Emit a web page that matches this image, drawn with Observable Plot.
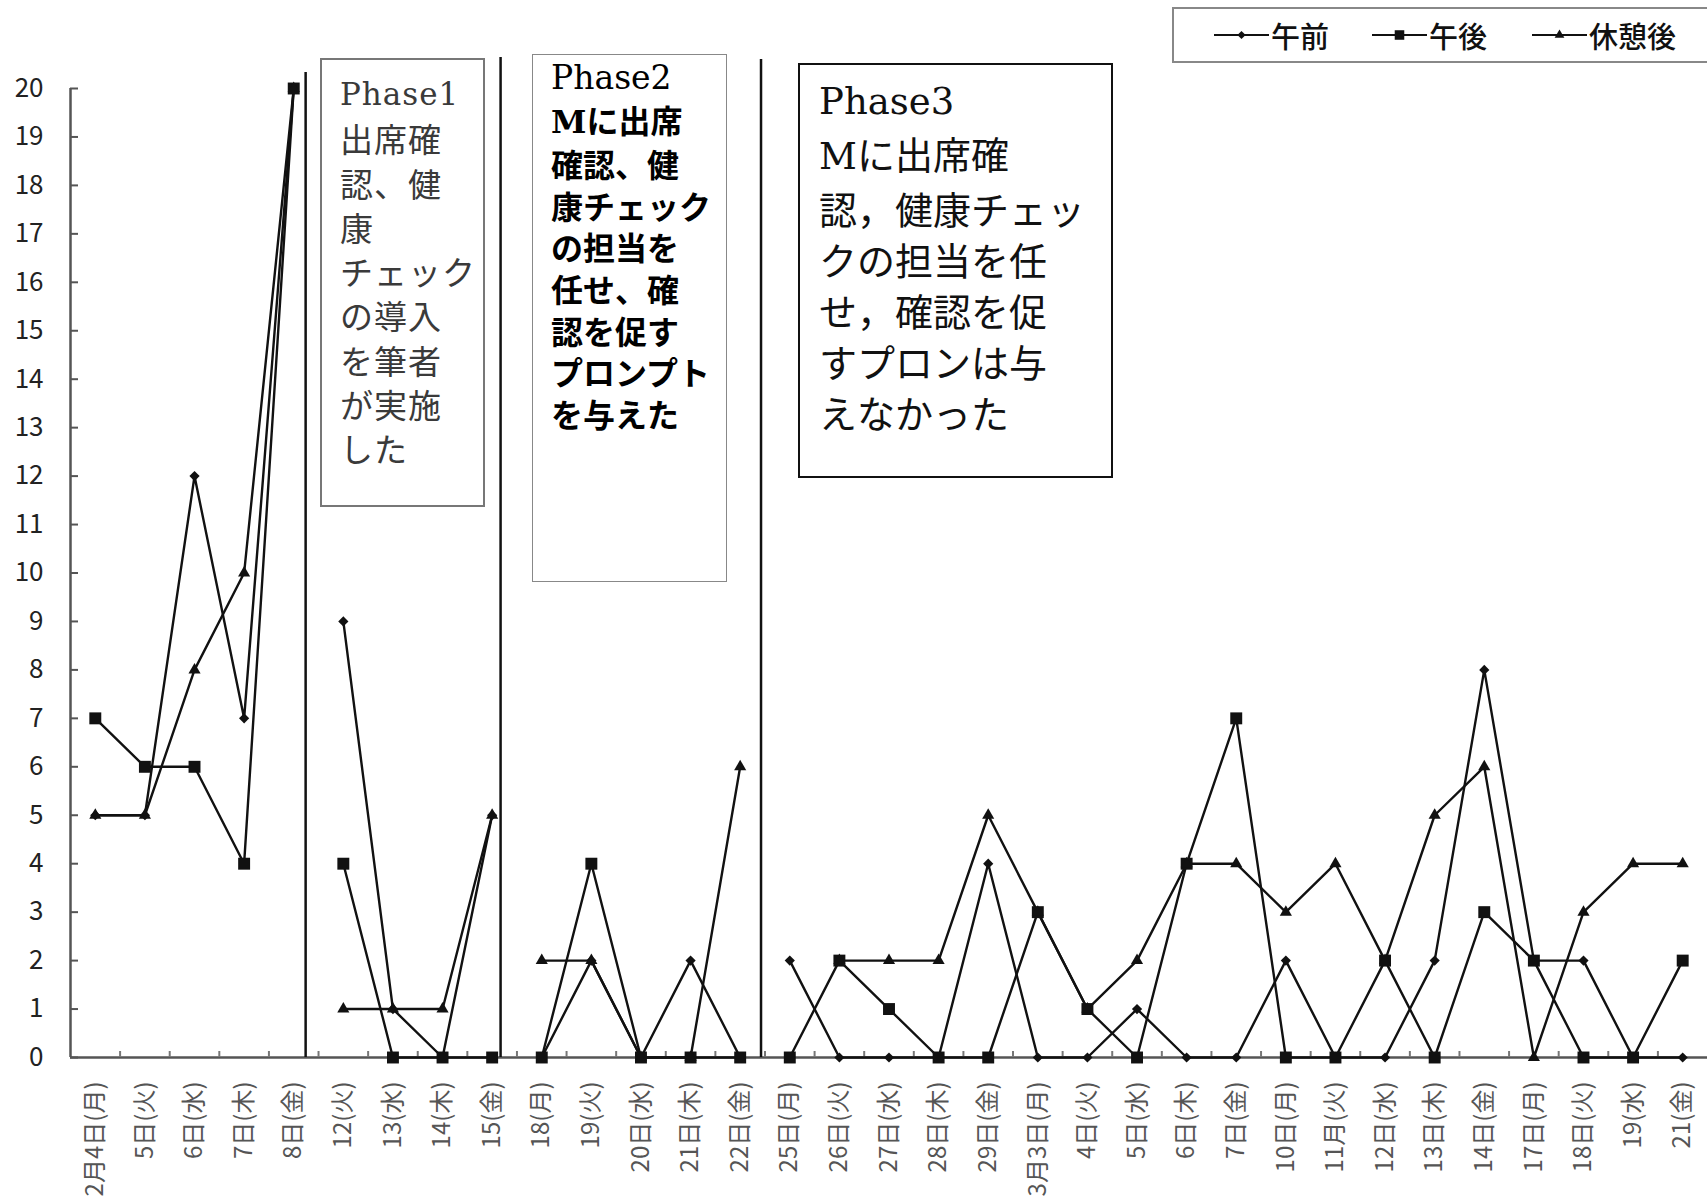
<!DOCTYPE html>
<html>
<head>
<meta charset="utf-8">
<script src="https://cdn.jsdelivr.net/npm/d3@7"></script>
<script src="https://cdn.jsdelivr.net/npm/@observablehq/plot@0.6"></script>
<style>
  html, body { margin: 0; padding: 0; background: #fff; }
  #wrap { position: relative; width: 1707px; height: 1202px; overflow: hidden; background: #fff; }
  #chart { position: absolute; left: 0; top: 0; }
  .box { position: absolute; box-sizing: border-box; background: #fff; font-family: "Noto Sans CJK JP", sans-serif; }
  .lat { font-family: "DejaVu Serif", serif; }
  #p1 { left: 320px; top: 58px; width: 165px; height: 449px; border: 2px solid #777; padding: 9px 0 0 18px;
        font-size: 33px; line-height: 44.3px; color: #3a3a3a; letter-spacing: 1px; font-weight: 400; }
  #p1 .lat { font-size: 31px; letter-spacing: 1px; }
  #p2 { left: 532px; top: 54px; width: 195px; height: 528px; border: 1.5px solid #888; padding: 0 0 0 18px;
        font-size: 32px; line-height: 41.6px; color: #000; font-weight: 700; }
  #p2 .lat { font-size: 33px; font-weight: 400; }
  #p2 .latb { font-family: "DejaVu Serif", serif; font-weight: 700; }
  #p3 { left: 798px; top: 63px; width: 315px; height: 415px; border: 2.5px solid #111; padding: 7px 0 0 19px;
        font-size: 38px; line-height: 51px; color: #111; }
  #p3 .lat { font-size: 37px; }
  #legend { position: absolute; left: 1172px; top: 7px; width: 560px; height: 56px; box-sizing: border-box;
            border: 2px solid #888; background: #fff; display: flex; align-items: center; padding-left: 40px;
            font-family: "Noto Sans CJK JP", sans-serif; font-size: 29px; font-weight: 500; color: #111; }
  .item { display: flex; align-items: center; }
  .item svg { display: block; }
  .item span { margin-left: 2px; }
</style>
</head>
<body>
<div id="wrap">
  <div id="chart"></div>
  <div id="legend"></div>
  <div class="box" id="p1"></div>
  <div class="box" id="p2"></div>
  <div class="box" id="p3"></div>
</div>
<script>
// ---- data ----
const dates = ["2月4日(月)","5日(火)","6日(水)","7日(木)","8日(金)",
  "12(火)","13(水)","14(木)","15(金)",
  "18(月)","19(火)","20日(水)","21日(木)","22日(金)",
  "25日(月)","26日(火)","27日(水)","28日(木)","29日(金)","3月3日(月)","4日(火)","5日(水)","6日(木)","7日(金)",
  "10日(月)","11月(火)","12日(水)","13日(木)","14日(金)","17日(月)","18日(火)","19(水)","21(金)"];
const seriesNames = ["午前", "午後", "休憩後"];
const amValues   = [5,5,12,7,20, 9,1,0,5, 0,2,0,2,0, 2,0,0,0,4,0,0,1,0,0,2,0,0,2,8,2,2,0,0];
const pmValues   = [7,6,6,4,20, 4,0,0,0, 0,4,0,0,0, 0,2,1,0,0,3,1,0,4,7,0,0,2,0,3,2,0,0,2];
const restValues = [5,5,8,10,20, 1,1,1,5, 2,2,0,0,6, null,2,2,2,5,3,1,2,4,4,3,4,2,5,6,0,3,4,4];
const phaseStarts = [0, 5, 9, 14];           // first category index of each phase
const phaseDividers = [4.24, 8.17, 13.42];   // divider positions between categories
const phaseDividerTops = [20.33, 20.64, 20.6];
const yTicks = d3.range(0, 21);
const phaseTexts = [
  ["<span class='lat'>Phase1</span>", "出席確", "認、健", "康", "チェック", "の導入", "を筆者", "が実施", "した"],
  ["<span class='lat'>Phase2</span>", "<span class='latb'>M</span>に出席", "確認、健", "康チェック", "の担当を", "任せ、確", "認を促す", "プロンプト", "を与えた"],
  ["<span class='lat'>Phase3</span>", "<span class='lat'>M</span>に出席確", "認，健康チェッ", "クの担当を任", "せ，確認を促", "すプロンは与", "えなかった"]
];

// ---- table ----
const valuesBySeries = [amValues, pmValues, restValues];
const segOf = i => d3.bisectRight(phaseStarts, i) - 1;
const rows = [];
seriesNames.forEach((s, k) => {
  valuesBySeries[k].forEach((v, i) => {
    rows.push({series: s, i, value: v, seg: segOf(i)});
  });
});
const pts = rows.filter(d => d.value != null);

const styles = {
  "午前":  {symbol: "diamond2", r: 4.6},
  "午後":  {symbol: "square2", r: 7.6},
  "休憩後": {symbol: "triangle2", r: 5.8}
};
const ink = "#111";
const xDomain = [-0.5, dates.length - 0.5];
const boundaries = d3.range(1, dates.length).map(i => i - 0.5);

const chart = Plot.plot({
  width: 1707,
  height: 1202,
  marginLeft: 70,
  marginRight: 0,
  marginTop: 88,
  marginBottom: 145,
  style: {fontFamily: "'Noto Sans CJK JP', sans-serif", background: "transparent"},
  x: {type: "linear", domain: xDomain},
  y: {domain: [0, 20]},
  marks: [
    // axis lines
    Plot.ruleY([0], {stroke: "#555", strokeWidth: 2.5}),
    Plot.ruleX([xDomain[0]], {y1: 0, y2: 20, stroke: "#555", strokeWidth: 2.5}),
    // inward ticks
    Plot.axisY({ticks: yTicks, tickSize: 8, dx: 8, fill: "none", stroke: "#555", strokeWidth: 2, label: null}),
    Plot.axisX({ticks: boundaries, tickSize: 6, dy: -6, fill: "none", stroke: "#777", strokeWidth: 2, label: null}),
    // tick labels
    Plot.axisY({ticks: yTicks, tickSize: 0, tickPadding: 27, fontSize: 26, fill: "#222", label: null}),
    Plot.axisX({ticks: d3.range(dates.length), tickFormat: i => dates[i], tickSize: 0, tickPadding: 24,
                tickRotate: -90, fontSize: 24, fill: "#555", label: null, ariaLabel: "x-labels"}),
    // phase dividers
    Plot.ruleX(phaseDividers, {x: d => d, y1: 0, y2: (d, j) => phaseDividerTops[j], stroke: "#111", strokeWidth: 2.5}),
    // series lines
    Plot.line(rows, {x: "i", y: "value", z: d => d.series + "-" + d.seg, stroke: ink, strokeWidth: 2.4}),
    // markers
    ...seriesNames.map(s => Plot.dot(pts.filter(d => d.series === s),
      {x: "i", y: "value", symbol: () => styles[s].symbol, r: styles[s].r, fill: ink, stroke: "none"}))
  ],
  symbol: {type: "identity"}
});
// elongate the rotated date labels along their reading direction, as in the original
d3.select(chart).selectAll("g[aria-label='x-labels'] text, g[aria-label='x-axis tick label'] text").each(function() {
  const t = this.getAttribute("transform") || "";
  if (t.includes("rotate")) this.setAttribute("transform", t + " scale(1.4,1)");
});
document.getElementById("chart").appendChild(chart);

// ---- annotation boxes ----
["p1", "p2", "p3"].forEach((id, k) => {
  document.getElementById(id).innerHTML = phaseTexts[k].join("<br>");
});

// ---- legend ----
const legend = d3.select("#legend");
const legendGaps = [0, 43, 45];
seriesNames.forEach((s, k) => {
  const item = legend.append("div").attr("class", "item").style("margin-left", legendGaps[k] + "px");
  const svg = item.append("svg").attr("width", 55).attr("height", 20);
  svg.append("line").attr("x1", 0).attr("x2", 55).attr("y1", 10).attr("y2", 10)
     .attr("stroke", ink).attr("stroke-width", 2);
  const sym = {diamond2: d3.symbolDiamond2, square2: d3.symbolSquare2, triangle2: d3.symbolTriangle2}[styles[s].symbol];
  const rr = styles[s].r * 0.8;
  svg.append("path").attr("transform", "translate(27.5,10)")
     .attr("d", d3.symbol(sym, rr * rr * Math.PI)()).attr("fill", ink);
  item.append("span").text(s);
});
</script>
</body>
</html>
